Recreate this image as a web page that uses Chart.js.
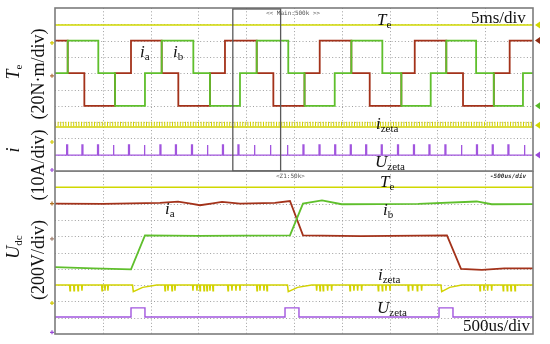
<!DOCTYPE html>
<html>
<head>
<meta charset="utf-8">
<script src="https://cdn.jsdelivr.net/npm/chart.js@4.4.0/dist/chart.umd.min.js"></script>
<style>
  body { margin: 0; background: #fff; width: 550px; height: 344px; overflow: hidden; position: relative;
         font-family: "Liberation Serif", "DejaVu Serif", serif; color: #111; }
  canvas { position: absolute; left: 0; }
  #cTop { top: 0; }
  #cBot { top: 171px; }
  .t { position: absolute; font-size: 17px; line-height: 17px; white-space: nowrap; }
  .t i { font-style: italic; }
  .t sub { font-size: 11px; line-height: 0; vertical-align: -3px; }
  .r { position: absolute; font-size: 18px; line-height: 18px; white-space: nowrap;
       transform: translate(-50%, -50%) rotate(-90deg); }
  .r i { font-style: italic; }
  .r sub { font-size: 11px; line-height: 0; vertical-align: -3px; }
  .tiny { position: absolute; font-family: "DejaVu Sans Mono", monospace; font-size: 6px; color: #555; white-space: nowrap; }
</style>
</head>
<body>
<canvas id="cTop" width="550" height="172"></canvas>
<canvas id="cBot" width="550" height="173"></canvas>

<!-- labels -->
<div class="r" style="left:13px;top:72px"><i>T</i><sub>e</sub></div>
<div class="r" style="left:38px;top:74px">(20N·m/div)</div>
<div class="r" style="left:13px;top:150px"><i>i</i></div>
<div class="r" style="left:38px;top:165px">(10A/div)</div>
<div class="r" style="left:13px;top:247px"><i>U</i><sub>dc</sub></div>
<div class="r" style="left:38px;top:260px">(200V/div)</div>

<div class="t" style="left:377px;top:11px"><i>T</i><sub>e</sub></div>
<div class="t" style="left:471px;top:9px">5ms/div</div>
<div class="t" style="left:140px;top:43px"><i>i</i><sub>a</sub></div>
<div class="t" style="left:173px;top:43px"><i>i</i><sub>b</sub></div>
<div class="t" style="left:376px;top:115px"><i>i</i><sub>zeta</sub></div>
<div class="t" style="left:375px;top:153px"><i>U</i><sub>zeta</sub></div>

<div class="t" style="left:380px;top:173px"><i>T</i><sub>e</sub></div>
<div class="t" style="left:165px;top:200px"><i>i</i><sub>a</sub></div>
<div class="t" style="left:383px;top:201px"><i>i</i><sub>b</sub></div>
<div class="t" style="left:378px;top:266px"><i>i</i><sub>zeta</sub></div>
<div class="t" style="left:377px;top:299px"><i>U</i><sub>zeta</sub></div>
<div class="t" style="left:463px;top:317px">500us/div</div>

<div class="tiny" style="left:266px;top:9px">&lt;&lt; Main:500k &gt;&gt;</div>
<div class="tiny" style="left:276px;top:172px">&lt;Z1:50k&gt;</div>
<div class="tiny" style="left:490px;top:172px;font-weight:bold;font-style:italic;color:#333">-500us/div</div>

<script>
// ---------- top panel : 5 ms/div, values in screen divisions (0 = panel bottom) ----------
const topSpan = [0, 50];                 // ms
const topDivs = [5, 10, 15, 20, 25, 30, 35, 40, 45];
const zoomWindow = [18.6, 23.6];         // ms, shown below at 500 us/div

const teTop = 8.96;
const iaTopT = [0, 1.33, 3.07, 6.28, 7.95, 11.16, 12.9, 16.21, 17.78, 21.1, 22.84, 26.1, 27.69, 31.0, 32.92, 36.23, 37.63, 40.93, 42.68, 45.9, 47.56, 50];
const iaTopV = [8, 6, 4, 6, 8, 6, 4, 6, 8, 6, 4, 6, 8, 6, 4, 6, 8, 6, 4, 6, 8, 8];
const ibTopT = [0, 1.33, 4.53, 6.28, 9.41, 11.16, 14.47, 16.21, 19.35, 21.1, 24.4, 26.1, 29.26, 31.0, 34.24, 36.23, 39.3, 40.93, 44.05, 45.9, 48.95, 50];
const ibTopV = [6, 8, 6, 4, 6, 8, 6, 4, 6, 8, 6, 4, 6, 8, 6, 4, 6, 8, 6, 4, 6, 6];
const izTop = 2.7;
const uzTopBase = 0.98, uzTopHigh = 1.6, uzTopWidth = 0.1;
const uzTopPulse = [1.22, 2.82, 4.45, 6.07, 7.69, 9.31, 10.98, 12.6, 14.28, 15.9, 17.52, 19.14, 20.82, 22.49, 24.27,
                    25.94, 27.62, 29.26, 30.89, 32.5, 34.13, 35.83, 37.5, 39.12, 40.79, 42.47, 44.09, 45.74, 47.38, 49.06];

// ---------- bottom panel : 500 us/div ----------
const botSpan = [0, 5000];               // us
const botDivs = [500, 1000, 1500, 2000, 2500, 3000, 3500, 4000, 4500];

const teBot = 9.0;
const iaBotT = [0, 500, 1098, 1287, 1420, 1517, 1650, 1747, 1935, 2300, 2458, 2594, 3200, 4100, 4247, 4466, 4700, 5000];
const iaBotV = [8.0, 7.98, 8.05, 8.12, 8.0, 7.9, 8.02, 8.1, 8.0, 8.05, 8.16, 6.05, 6.0, 6.05, 4.0, 3.93, 4.02, 4.03];
const ibBotT = [0, 400, 795, 941, 1500, 2458, 2594, 2793, 2999, 3800, 4411, 4568, 5000];
const ibBotV = [4.1, 4.02, 3.97, 6.05, 6.02, 6.05, 8.0, 8.2, 7.96, 7.98, 8.13, 7.96, 7.97];
const izBotBase = 3.0, izSpikeDepth = 0.35;
const izBotSpikes = [157, 199, 241, 282, 492, 523, 554, 1151, 1182, 1224, 1255, 1443, 1485, 1517, 1559, 1590, 1621, 1653,
                     1810, 1851, 1893, 1935, 2113, 2144, 2186, 2218, 2737, 2772, 2806, 2852, 2894, 3086, 3127, 3166, 3208,
                     3382, 3424, 3462, 3504, 3696, 3741, 3790, 3835, 4446, 4487, 4526, 4568, 4689, 4731, 4770, 4812];
const izBotDipStart = [819, 2440, 4045];
const izBotDipEnd = [1064, 2685, 4254];
const izBotDipDepth = 0.4;
const uzBotBase = 1.04, uzBotHigh = 1.6;
const uzBotStart = [795, 2406, 4017];
const uzBotEnd = [941, 2552, 4163];

// channel markers at the right edge of the upper screen
const markLevels = [teTop, 8, 4, 2.8, uzTopBase];
const markColors = ["#cfd600", "#8e2a12", "#58b82a", "#cfd600", "#9a4ad8"];
// small ground marks on the left edge
const gndTop = [7.86, 5.84, 1.78, 0.06];
const gndTopCol = ["#d0c800", "#b07040", "#d0c800", "#9a4ad8"];
const gndBot = [8.0, 5.84, 1.9, 0.1];
const gndBotCol = ["#b07020", "#a08070", "#d0c800", "#9a4ad8"];

const COL = { te: "#d0d800", ia: "#a3321a", ib: "#5fbf2c", iz: "#d2d200", uz: "#a155de" };

const pts = (xs, ys) => xs.map((x, i) => ({ x, y: ys[i] }));

function flat(span, v) { return [{ x: span[0], y: v }, { x: span[1], y: v }]; }

function pulses(span, base, high, starts, ends) {
  const out = [{ x: span[0], y: base }];
  starts.forEach((s, i) => {
    out.push({ x: s, y: base }, { x: s, y: high }, { x: ends[i], y: high }, { x: ends[i], y: base });
  });
  out.push({ x: span[1], y: base });
  return out;
}

function izetaBottom() {
  const ev = [];
  izBotSpikes.forEach((s) => ev.push({ t: s, kind: "s" }));
  izBotDipStart.forEach((s, i) => ev.push({ t: s, kind: "d", end: izBotDipEnd[i] }));
  ev.sort((a, b) => a.t - b.t);
  const out = [{ x: 0, y: izBotBase }];
  ev.forEach((e) => {
    if (e.kind === "s") {
      out.push({ x: e.t - 4, y: izBotBase }, { x: e.t, y: izBotBase - izSpikeDepth }, { x: e.t + 4, y: izBotBase });
    } else {
      out.push({ x: e.t - 8, y: izBotBase }, { x: e.t, y: izBotBase - izBotDipDepth },
               { x: e.t + (e.end - e.t) * 0.4, y: izBotBase - izBotDipDepth * 0.35 }, { x: e.end, y: izBotBase });
    }
  });
  out.push({ x: 5000, y: izBotBase });
  return out;
}

const scopePlugin = {
  id: "scope",
  beforeDatasetsDraw(chart, args, o) {
    const { ctx, chartArea: a, scales: { x, y } } = chart;
    ctx.save();
    ctx.strokeStyle = "#a0a0a0";
    ctx.lineWidth = 1;
    ctx.setLineDash([1, 2.3]);
    o.xGrid.forEach((v) => {
      const px = Math.round(x.getPixelForValue(v)) + 0.5;
      ctx.beginPath(); ctx.moveTo(px, a.top); ctx.lineTo(px, a.bottom); ctx.stroke();
    });
    for (let d = 1; d < 10; d++) {
      const py = Math.round(y.getPixelForValue(d)) + 0.5;
      ctx.beginPath(); ctx.moveTo(a.left, py); ctx.lineTo(a.right, py); ctx.stroke();
    }
    ctx.restore();
  },
  afterDatasetsDraw(chart, args, o) {
    const { ctx, chartArea: a, scales: { x, y } } = chart;
    ctx.save();
    ctx.strokeStyle = "#7c7c7c";
    ctx.lineWidth = 1.6;
    ctx.strokeRect(a.left, a.top, a.right - a.left, a.bottom - a.top);
    if (o.zoom) {
      const x0 = x.getPixelForValue(o.zoom[0]), x1 = x.getPixelForValue(o.zoom[1]);
      ctx.strokeStyle = "#5a5a5a";
      ctx.lineWidth = 1.3;
      ctx.strokeRect(x0, a.top + 1, x1 - x0, a.bottom - a.top - 1);
    }
    if (o.marks) {
      o.marks.forEach((lv, i) => {
        const py = y.getPixelForValue(lv);
        ctx.fillStyle = markColors[i];
        ctx.beginPath();
        ctx.moveTo(a.right + 2, py);
        ctx.lineTo(a.right + 7, py - 3.5);
        ctx.lineTo(a.right + 7, py + 3.5);
        ctx.closePath();
        ctx.fill();
      });
    }
    if (o.gnd) {
      ctx.lineWidth = 1.2;
      o.gnd.forEach((lv, i) => {
        const py = y.getPixelForValue(lv);
        ctx.strokeStyle = o.gndCol[i];
        ctx.beginPath();
        ctx.moveTo(a.left - 5, py); ctx.lineTo(a.left - 1, py);
        ctx.moveTo(a.left - 3, py - 2); ctx.lineTo(a.left - 3, py + 2);
        ctx.stroke();
      });
    }
    ctx.restore();
  },
};

function line(data, color, extra) {
  return Object.assign({ data, borderColor: color, borderWidth: 1.6, pointRadius: 0, fill: false, tension: 0 }, extra || {});
}

function makeChart(id, span, divs, datasets, plug, pad) {
  return new Chart(document.getElementById(id), {
    type: "line",
    data: { datasets },
    options: {
      responsive: false,
      animation: false,
      devicePixelRatio: 1,
      layout: { padding: pad },
      plugins: { legend: { display: false }, tooltip: { enabled: false }, scope: Object.assign({ xGrid: divs }, plug) },
      scales: {
        x: { type: "linear", min: span[0], max: span[1], display: false },
        y: { type: "linear", min: 0, max: 10, display: false },
      },
    },
    plugins: [scopePlugin],
  });
}

makeChart("cTop", topSpan, topDivs, [
  line(flat(topSpan, teTop), COL.te),
  line(flat(topSpan, izTop), COL.iz, { borderWidth: 1.5 }),
  line(flat(topSpan, izTop + 0.18), COL.iz, { borderWidth: 4.5, borderDash: [1, 1.6] }),
  line(pulses(topSpan, uzTopBase, uzTopHigh, uzTopPulse, uzTopPulse.map((t) => t + uzTopWidth)), COL.uz, { borderWidth: 1.3 }),
  line(pts(ibTopT, ibTopV), COL.ib, { stepped: true, borderWidth: 1.8 }),
  line(pts(iaTopT, iaTopV), COL.ia, { stepped: true, borderWidth: 1.8 }),
], { zoom: zoomWindow, marks: markLevels, gnd: gndTop, gndCol: gndTopCol }, { left: 55, right: 17, top: 8, bottom: 1 });

makeChart("cBot", botSpan, botDivs, [
  line(flat(botSpan, teBot), COL.te),
  line(izetaBottom(), COL.iz, { borderWidth: 1.5 }),
  line(pulses(botSpan, uzBotBase, uzBotHigh, uzBotStart, uzBotEnd), COL.uz, { borderWidth: 1.4 }),
  line(pts(ibBotT, ibBotV), COL.ib, { borderWidth: 1.8 }),
  line(pts(iaBotT, iaBotV), COL.ia, { borderWidth: 1.8 }),
], { gnd: gndBot, gndCol: gndBotCol }, { left: 55, right: 17, top: 0, bottom: 10 });
</script>
</body>
</html>
